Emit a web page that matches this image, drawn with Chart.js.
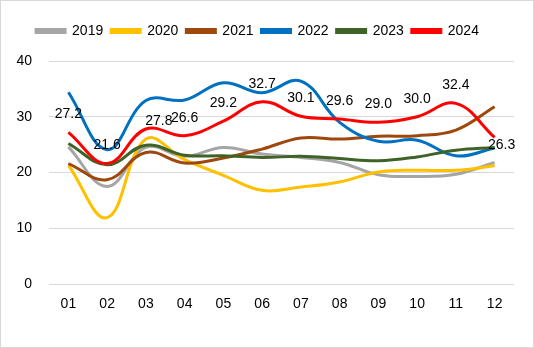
<!DOCTYPE html>
<html>
<head>
<meta charset="utf-8">
<script src="https://cdn.jsdelivr.net/npm/chart.js@4.4.1/dist/chart.umd.min.js"></script>
<style>
  body { margin: 0; background: #fff; }
  .wrap { width: 534px; height: 348px; border: 1px solid #d9d9d9; box-sizing: border-box; }
  canvas { display: block; }
</style>
</head>
<body>
<div class="wrap"><canvas id="c" width="532" height="346"></canvas></div>
<script>
// 月份
const months = ['01', '02', '03', '04', '05', '06', '07', '08', '09', '10', '11', '12'];
const yTicks = [0, 10, 20, 30, 40];

// 各年数据
const v2019 = [24.6, 17.5, 24.5, 22.9, 24.5, 23.3, 22.7, 21.8, 19.6, 19.3, 19.7, 21.8];
const v2020 = [21.3, 11.9, 26.0, 22.3, 19.5, 16.8, 17.4, 18.3, 20.1, 20.4, 20.4, 21.2];
const v2021 = [21.6, 18.7, 23.6, 21.7, 22.6, 24.2, 26.2, 26.0, 26.5, 26.6, 27.6, 31.8];
const v2022 = [34.4, 24.1, 32.9, 33.0, 36.1, 34.3, 36.4, 29.0, 25.6, 25.8, 23.0, 24.4];
const v2023 = [25.2, 21.4, 24.9, 23.1, 23.0, 22.7, 22.9, 22.5, 22.1, 22.8, 24.0, 24.5];
const v2024 = [27.2, 21.6, 27.8, 26.6, 29.2, 32.7, 30.1, 29.6, 29.0, 30.0, 32.4, 26.3];

const seriesNames = ['2019', '2020', '2021', '2022', '2023', '2024'];
const seriesData = [v2019, v2020, v2021, v2022, v2023, v2024];
const colors = ['#A5A5A5', '#FFC000', '#9E480E', '#0070C0', '#3F6327', '#FF0000'];

const font = "'Liberation Sans', Arial, sans-serif";

// 图例下方留白
const legendGap = {
    id: 'legendGap',
    beforeInit(chart) {
        const fit = chart.legend.fit;
        chart.legend.fit = function () {
            fit.bind(chart.legend)();
            this.height += 13;
        };
    }
};

// 2024 数据标签
const labelPlugin = {
    id: 'labels2024',
    afterDatasetsDraw(chart) {
        const idx = 5;
        const meta = chart.getDatasetMeta(idx);
        const ctx = chart.ctx;
        ctx.save();
        ctx.font = '14px ' + font;
        ctx.fillStyle = '#000';
        ctx.textAlign = 'center';
        ctx.textBaseline = 'middle';
        meta.data.forEach((pt, i) => {
            let dx = 0, dy = -18;
            if (i === 2) { dx = 13; dy = -8; }   // 27.8 偏右
            if (i === 11) { dx = 7; dy = 8; }    // 26.3 右下
            ctx.fillText(v2024[i].toFixed(1), pt.x + dx, pt.y + dy);
        });
        ctx.restore();
    }
};

const datasets = seriesNames.map((name, i) => ({
    label: name,
    data: seriesData[i],
    borderColor: colors[i],
    backgroundColor: colors[i],
    borderWidth: 3,
    pointRadius: 0,
    tension: 0.4,
    fill: false,
    order: 5 - i
}));

new Chart(document.getElementById('c'), {
    type: 'line',
    data: { labels: months, datasets: datasets },
    plugins: [legendGap, labelPlugin],
    options: {
        responsive: false,
        animation: false,
        layout: { padding: { top: 15, right: 19, left: 0, bottom: 0 } },
        plugins: {
            tooltip: { enabled: false },
            legend: {
                position: 'top',
                align: 'center',
                labels: {
                    boxWidth: 29,
                    boxHeight: 3,
                    padding: 8,
                    color: '#000',
                    font: { family: font, size: 14 },
                    sort: (a, b) => a.datasetIndex - b.datasetIndex
                }
            }
        },
        scales: {
            x: {
                offset: true,
                grid: { display: false, drawTicks: false },
                border: { display: false },
                ticks: { color: '#000', padding: 12, font: { family: font, size: 14 } },
                afterFit(axis) { axis.height = 63; }
            },
            y: {
                min: 0,
                max: 40,
                afterBuildTicks(axis) { axis.ticks = yTicks.map(v => ({ value: v })); },
                grid: { color: '#d9d9d9', lineWidth: 1, drawTicks: false },
                border: { display: false },
                ticks: { color: '#000', padding: 17, font: { family: font, size: 14 } },
                afterFit(axis) { axis.width = 48; }
            }
        }
    }
});
</script>
</body>
</html>
